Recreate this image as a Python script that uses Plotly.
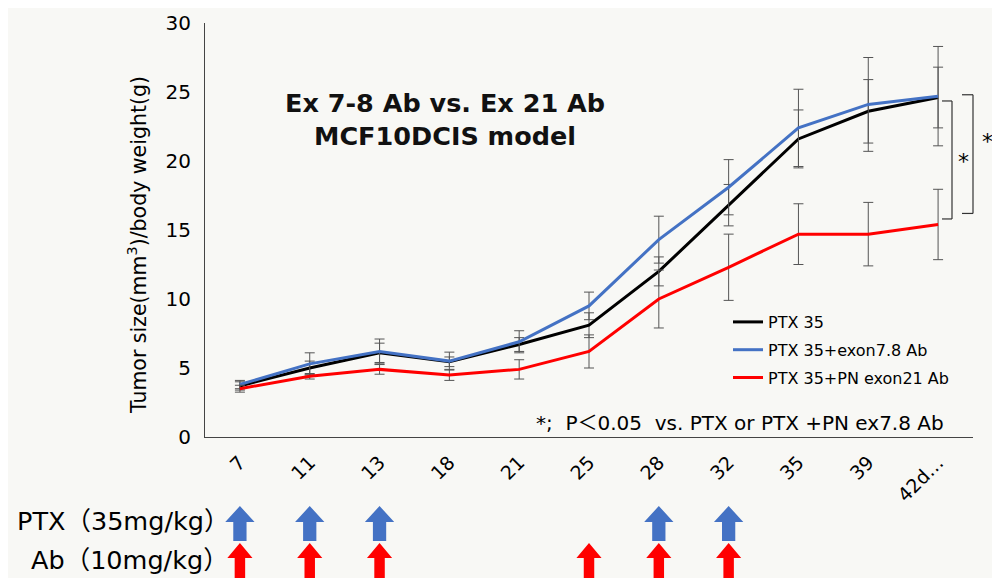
import plotly.graph_objects as go

# ---------------- data ----------------
days = ["7", "11", "13", "18", "21", "25", "28", "32", "35", "39", "42d\u2026"]
ptx = [3.7, 5.0, 6.1, 5.45, 6.7, 8.1, 12.0, 16.8, 21.6, 23.6, 24.6]
ptx_err = [0.3, 0.5, 0.7, 0.35, 0.5, 0.9, 1.05, 1.5, 2.1, 2.3, 2.2]
exon78 = [3.8, 5.3, 6.2, 5.5, 6.9, 9.5, 14.3, 18.1, 22.4, 24.1, 24.7]
exon78_err = [0.3, 0.8, 0.9, 0.65, 0.8, 1.0, 1.7, 2.0, 2.8, 3.4, 3.6]
exon21 = [3.5, 4.4, 4.9, 4.5, 4.9, 6.2, 10.0, 12.3, 14.7, 14.7, 15.4]
exon21_err = [0.25, 0.2, 0.35, 0.4, 0.7, 1.2, 2.1, 2.4, 2.2, 2.3, 2.55]

ptx_dose_days = ["7", "11", "13", "28", "32"]
ab_dose_days = ["7", "11", "13", "25", "28", "32"]

series_names = ["PTX 35", "PTX 35+exon7.8 Ab", "PTX 35+PN exon21 Ab"]
y_ticks = [0, 5, 10, 15, 20, 25, 30]

# ---------------- styles ----------------
BG = "#f8f8f5"
BLACK = "#000000"
BLUE = "#4472C4"
RED = "#FF0000"
ERR = "#555555"
FONT = "DejaVu Sans, Verdana, sans-serif"
MIX = "DejaVu Sans, Noto Sans CJK JP, sans-serif"

x_idx = list(range(len(days)))

fig = go.Figure()

for name, vals, errs, col in [
    (series_names[0], ptx, ptx_err, BLACK),
    (series_names[1], exon78, exon78_err, BLUE),
    (series_names[2], exon21, exon21_err, RED),
]:
    fig.add_trace(go.Scatter(
        x=x_idx, y=vals, mode="lines", name=name, legendgroup=name,
        line=dict(color=col, width=3),
        error_y=dict(type="data", array=errs, visible=True, color=ERR,
                     thickness=1, width=5),
        xaxis="x", yaxis="y",
    ))


def arrow_polys(day_list, tip, head_base, bottom, head_hw, shaft_hw):
    xs, ys = [], []
    for d in day_list:
        c = days.index(d)
        xs += [c, c + head_hw, c + shaft_hw, c + shaft_hw, c - shaft_hw,
               c - shaft_hw, c - head_hw, c, None]
        ys += [tip, head_base, head_base, bottom, bottom, head_base,
               head_base, tip, None]
    return xs, ys


bx, by = arrow_polys(ptx_dose_days, 72, 56, 37, 0.21, 0.095)
rx, ry = arrow_polys(ab_dose_days, 35, 20, -10, 0.18, 0.075)
fig.add_trace(go.Scatter(x=bx, y=by, mode="lines", fill="toself",
                         fillcolor=BLUE, line=dict(width=0, color=BLUE),
                         showlegend=False, hoverinfo="skip",
                         xaxis="x", yaxis="y2"))
fig.add_trace(go.Scatter(x=rx, y=ry, mode="lines", fill="toself",
                         fillcolor=RED, line=dict(width=0, color=RED),
                         showlegend=False, hoverinfo="skip",
                         xaxis="x", yaxis="y2"))

# page is rendered with an 8px body margin -> figure is 992x570
H_PAPER = 555.0
W_PAPER = 768.0

fig.update_layout(
    width=992, height=570,
    margin=dict(l=197, r=27, t=15, b=0, autoexpand=False),
    paper_bgcolor=BG, plot_bgcolor=BG,
    font=dict(family=FONT, color=BLACK),
    showlegend=True,
    legend=dict(
        x=0.681, y=(578 - 305) / H_PAPER, xanchor="left", yanchor="top",
        bgcolor="rgba(0,0,0,0)", font=dict(size=16, color=BLACK),
        traceorder="grouped", tracegroupgap=4, itemwidth=30,
    ),
    xaxis=dict(
        anchor="y", range=[-0.5, 10.5], tickmode="array",
        tickvals=x_idx, ticktext=days, tickangle=-45,
        tickfont=dict(size=19, color=BLACK),
        showline=True, linecolor="#444444", linewidth=1,
        showgrid=False, zeroline=False, ticks="", automargin=False,
        ticklabelstandoff=6,
    ),
    yaxis=dict(
        domain=[(578 - 437) / H_PAPER, 1.0], range=[0, 30],
        tickmode="array", tickvals=y_ticks,
        tickfont=dict(size=20, color=BLACK),
        showline=True, linecolor="#444444", linewidth=1,
        showgrid=False, zeroline=False, ticks="", ticklabelstandoff=9,
        automargin=False,
    ),
    yaxis2=dict(
        domain=[0, 75 / H_PAPER], range=[0, 75], anchor="x",
        visible=False, showgrid=False, zeroline=False, automargin=False,
    ),
)

NB = "\u00a0"
annotations = [
    dict(text="Tumor size(mm<sup>3</sup>)/body weight(g)",
         xref="paper", yref="paper", x=(137 - 205) / W_PAPER,
         y=(578 - 245) / H_PAPER, xanchor="center", yanchor="middle",
         textangle=-90, showarrow=False,
         font=dict(size=20.5, color=BLACK)),
    dict(text="<b>Ex 7-8 Ab vs. Ex 21 Ab<br>MCF10DCIS model</b>",
         xref="paper", yref="y", x=(445 - 205) / W_PAPER, y=23.0,
         xanchor="center", yanchor="middle", showarrow=False,
         font=dict(size=25.5, color="#111111"), align="center"),
    dict(text="*;" + NB * 2 + "P\uff1c0.05" + NB * 2 + "vs. PTX or PTX +PN ex7.8 Ab",
         xref="paper", yref="y", x=(946 - 205) / W_PAPER, y=1.0,
         xanchor="right", yanchor="middle",
         showarrow=False, font=dict(size=20, color=BLACK, family=MIX)),
    dict(text="*", xref="paper", yref="y", x=(963 - 205) / W_PAPER, y=20.0,
         xanchor="center", yanchor="middle", showarrow=False,
         font=dict(size=22, color=BLACK)),
    dict(text="*", xref="paper", yref="y", x=(987 - 205) / W_PAPER, y=21.4,
         xanchor="center", yanchor="middle", showarrow=False,
         font=dict(size=22, color=BLACK)),
    dict(text="PTX\uff0835mg/kg\uff09", xref="paper", yref="paper",
         x=(231 - 205) / W_PAPER, y=(578 - 521) / H_PAPER, xanchor="right",
         yanchor="middle", showarrow=False,
         font=dict(size=25.5, color=BLACK, family=MIX)),
    dict(text="Ab\uff0810mg/kg\uff09", xref="paper", yref="paper",
         x=(231 - 205) / W_PAPER, y=(578 - 560) / H_PAPER, xanchor="right",
         yanchor="middle", showarrow=False,
         font=dict(size=25.5, color=BLACK, family=MIX)),
]
fig.update_layout(annotations=annotations)


def bracket(x_in, x_out, y_top, y_bot):
    st = dict(color="#333333", width=1.2)
    return [
        dict(type="line", xref="paper", yref="y", x0=x_in, x1=x_out,
             y0=y_top, y1=y_top, line=st),
        dict(type="line", xref="paper", yref="y", x0=x_out, x1=x_out,
             y0=y_top, y1=y_bot, line=st),
        dict(type="line", xref="paper", yref="y", x0=x_in, x1=x_out,
             y0=y_bot, y1=y_bot, line=st),
    ]


shapes = (bracket((942 - 205) / W_PAPER, (952 - 205) / W_PAPER, 24.35, 15.8)
          + bracket((962 - 205) / W_PAPER, (973 - 205) / W_PAPER, 24.8, 16.2))
fig.update_layout(shapes=shapes)

fig.write_html("out.html")
